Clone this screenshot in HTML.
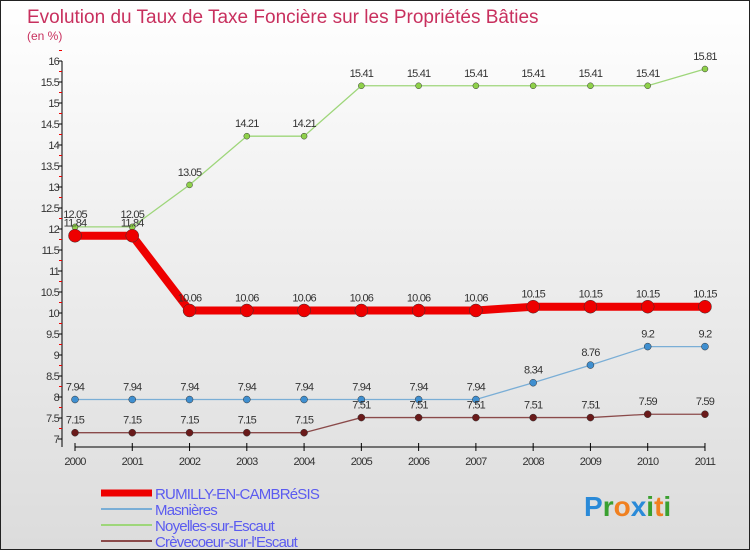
<!DOCTYPE html>
<html><head><meta charset="utf-8"><style>
body{margin:0}
#wrap{width:748px;height:548px;border:1px solid #222;background:linear-gradient(#fff,#f0f0f0 40%,#dcdcdc);position:relative;overflow:hidden;font-family:"Liberation Sans",sans-serif}
</style></head><body>
<div id="wrap">
<svg id="c" width="748" height="548"></svg>
</div>
<script>
const years=["2000","2001","2002","2003","2004","2005","2006","2007","2008","2009","2010","2011"];
const rumilly=[11.84,11.84,10.06,10.06,10.06,10.06,10.06,10.06,10.15,10.15,10.15,10.15];
const masnieres=[7.94,7.94,7.94,7.94,7.94,7.94,7.94,7.94,8.34,8.76,9.2,9.2];
const noyelles=[12.05,12.05,13.05,14.21,14.21,15.41,15.41,15.41,15.41,15.41,15.41,15.81];
const crevecoeur=[7.15,7.15,7.15,7.15,7.15,7.51,7.51,7.51,7.51,7.51,7.59,7.59];
const yTicks=[7,7.5,8,8.5,9,9.5,10,10.5,11,11.5,12,12.5,13,13.5,14,14.5,15,15.5,16];
const NS="http://www.w3.org/2000/svg";
const svg=document.getElementById('c');
const X=i=>74+i*57.27;
const Y=v=>438-(v-7)*42;
function el(t,a,p){const e=document.createElementNS(NS,t);for(const k in a)e.setAttribute(k,a[k]);(p||svg).appendChild(e);return e;}
function txt(s,a){const e=el('text',a);e.textContent=s;return e;}
let t=txt("Evolution du Taux de Taxe Foncière sur les Propriétés Bâties",{x:26,y:22,fill:"#c8305e","font-size":19});

t=txt("(en %)",{x:26,y:39,fill:"#c8305e","font-size":12});

// y axis
let a=el('line',{x1:61,y1:Y(16),x2:61,y2:Y(7)+8,stroke:"#000"});

yTicks.forEach(v=>{
 const tk=el('line',{x1:57,x2:61,y1:Y(v),y2:Y(v),stroke:"#000"});
 
 const lb=txt(String(v),{x:58,y:Y(v)+4,"text-anchor":"end","font-size":11,fill:"#333","letter-spacing":"-0.8"});
 
 const m=el('line',{x1:58,x2:61,y1:Y(v+0.25),y2:Y(v+0.25),stroke:"#e00"});
 
});
a=el('line',{x1:X(0),y1:446,x2:X(11),y2:446,stroke:"#000"});

years.forEach((y,i)=>{
 const tk=el('line',{x1:X(i),x2:X(i),y1:442,y2:450,stroke:"#000"});
 
 const lb=txt(y,{x:X(i),y:464,"text-anchor":"middle","font-size":11,fill:"#333","letter-spacing":"-0.8"});
 
});
function series(vals,color,w,r,name,mk){
 const g=el('g',{});
 
 const p=el('polyline',{points:vals.map((v,i)=>X(i)+","+Y(v)).join(" "),fill:"none",stroke:color,"stroke-width":w},g);
 
 vals.forEach((v,i)=>{
  const c=el('circle',{cx:X(i),cy:Y(v),r:r,fill:mk,stroke:"#333","stroke-width":0.5},g);
  
  const l=txt(String(v),{x:X(i),y:Y(v)-9,"text-anchor":"middle","font-size":11,fill:"#333","letter-spacing":"-0.8"});
  
 });
}
series(noyelles,"#9ed67a",1.3,3,"noyelles","#8fd14a");
series(masnieres,"#7aaed6",1.3,3.5,"masnieres","#3f8fd0");
series(crevecoeur,"#8a4a4a",1.3,3.5,"crevecoeur","#6a1a1a");
series(rumilly,"#ee0000",8,6.5,"rumilly","#ee0000");
const legend=[["RUMILLY-EN-CAMBRéSIS","#ee0000",7],["Masnières","#7aaed6",2],["Noyelles-sur-Escaut","#9ed67a",2],["Crèvecoeur-sur-l'Escaut","#8a4a4a",2]];
legend.forEach((l,i)=>{
 const y=492+i*16;
 const g=el('g',{});
 el('line',{x1:100,x2:151,y1:y,y2:y,stroke:l[1],"stroke-width":l[2]},g);
 const tt=el('text',{x:154,y:y+6,"font-size":15,fill:"#5b5bf0","letter-spacing":"-0.8"},g);tt.textContent=l[0];
});
const lg=el('text',{x:583,y:515,"font-size":28,"font-weight":"bold"});

[["P","#2a8ad8"],["r","#3aa030"],["o","#f08020"],["x","#2a8ad8"],["i","#3aa030"],["t","#f08020"],["i","#3aa030"]].forEach(c=>{const s=el('tspan',{fill:c[1]},lg);s.textContent=c[0];});
</script>
</body></html>
